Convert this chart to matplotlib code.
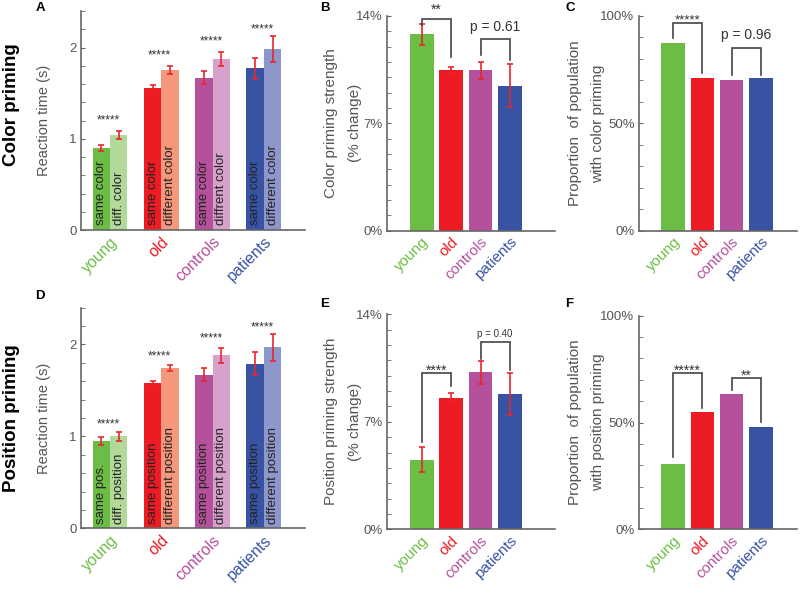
import matplotlib
matplotlib.use("Agg")
import matplotlib.pyplot as plt
from matplotlib.ticker import MultipleLocator, FuncFormatter
import numpy as np

plt.rcParams['font.family'] = ['Liberation Sans', 'DejaVu Sans']

# groups and colours
groups = ['young', 'old', 'controls', 'patients']
dark_colors = ['#6CBD45', '#ED1C24', '#B5509D', '#3853A4']
light_colors = ['#B3D99A', '#F4977A', '#D6A2CC', '#8E97CC']
err_color = '#E8262C'
gray = '#555555'

# A: reaction times, color priming
color_rt_same = [0.90, 1.56, 1.67, 1.77]
color_rt_same_err = [0.035, 0.03, 0.07, 0.12]
color_rt_diff = [1.045, 1.755, 1.875, 1.985]
color_rt_diff_err = [0.045, 0.04, 0.08, 0.145]
color_star_y = [1.245, 1.96, 2.11, 2.245]
color_same_text = ['same color'] * 4
color_diff_text = ['diff. color', 'different color', 'diffrent color', 'different color']

# D: reaction times, position priming
pos_rt_same = [0.95, 1.58, 1.67, 1.79]
pos_rt_same_err = [0.04, 0.025, 0.07, 0.125]
pos_rt_diff = [1.00, 1.745, 1.88, 1.97]
pos_rt_diff_err = [0.05, 0.035, 0.085, 0.145]
pos_star_y = [1.18, 1.92, 2.11, 2.23]
pos_same_text = ['same pos.', 'same position', 'same position', 'same position']
pos_diff_text = ['diff. position', 'different position', 'different position', 'different position']

# B / E: priming strength (%)
color_strength = [12.8, 10.5, 10.45, 9.45]
color_strength_err = [0.7, 0.2, 0.57, 1.4]
pos_strength = [4.53, 8.55, 10.22, 8.81]
pos_strength_err = [0.83, 0.3, 0.77, 1.35]

# C / F: proportion with priming (%)
color_prop = [87.6, 71.0, 70.3, 71.0]
pos_prop = [30.6, 55.1, 63.3, 47.9]

# significance brackets: (label, i, j, top, left end, right end, label y, fontsize)
brackets_B = [('**', 0, 1, 13.8, 13.4, 11.35, 14.7, 10),
              ('p = 0.61', 2, 3, 12.48, 11.45, 11.1, 13.3, 10)]
brackets_C = [('*****', 0, 1, 96.9, 89.6, 73.6, 100.5, 9.5),
              ('p = 0.96', 2, 3, 85.2, 72.5, 72.5, 91.2, 10)]
brackets_E = [('****', 0, 1, 10.2, 5.7, 9.3, 10.6, 10),
              ('p = 0.40', 2, 3, 12.18, 11.1, 10.4, 12.7, 7)]
brackets_F = [('*****', 0, 1, 73.3, 34.0, 56.6, 76.6, 10),
              ('**', 2, 3, 70.7, 65.2, 50.4, 74.1, 10)]

W, H = 800, 590
fig = plt.figure(figsize=(8, 5.9), dpi=100)


def px_axes(x0, x1, y_top, y_zero):
    return fig.add_axes([x0 / W, 1 - y_zero / H, (x1 - x0) / W, (y_zero - y_top) / H])


def style_axes(ax):
    for s in ['top', 'right']:
        ax.spines[s].set_visible(False)
    for s in ['left', 'bottom']:
        ax.spines[s].set_color('#666666')
        ax.spines[s].set_linewidth(1.2)
    ax.tick_params(axis='y', which='both', direction='in', color='#666666',
                   labelcolor=gray, labelsize=9.5, pad=3)
    ax.tick_params(axis='y', which='major', length=3)
    ax.tick_params(axis='y', which='minor', length=3)
    ax.tick_params(axis='x', length=0, pad=3)


def set_group_labels(ax, x, size):
    ax.set_xticks(x)
    ax.set_xticklabels(groups, rotation=45, ha='right', rotation_mode='anchor', fontsize=size)
    for lab, c in zip(ax.get_xticklabels(), dark_colors):
        lab.set_color(c)


def stars(ax, x, y, label, fs):
    if label.startswith('p'):
        ax.text(x, y, label, ha='center', va='center', fontsize=fs, color='#333333', clip_on=False)
    else:
        ax.annotate(label, (x, y), xytext=(0, -0.62 * fs), textcoords='offset points',
                    ha='center', va='baseline', fontsize=fs, color='#333333', annotation_clip=False)


def rt_panel(ax, same, same_err, diff, diff_err, star_y, same_txt, diff_txt, ylabel):
    x = np.arange(1, 5)
    w = 0.34
    ax.bar(x - w / 2, same, w, color=dark_colors)
    ax.bar(x + w / 2, diff, w, color=light_colors)
    ax.errorbar(x - w / 2, same, yerr=same_err, fmt='none', ecolor=err_color,
                elinewidth=1.2, capsize=2.5, capthick=1.2)
    ax.errorbar(x + w / 2, diff, yerr=diff_err, fmt='none', ecolor=err_color,
                elinewidth=1.2, capsize=2.5, capthick=1.2)
    for xi, t1, t2, sy in zip(x, same_txt, diff_txt, star_y):
        ax.text(xi - w / 2, 0.05, t1, rotation=90, ha='center', va='bottom', fontsize=9.5, color='#222222')
        ax.text(xi + w / 2, 0.05, t2, rotation=90, ha='center', va='bottom', fontsize=9.5, color='#222222')
        stars(ax, xi - 0.03, sy, '*****', 8.5)
    ax.set_xlim(0.435, 4.8)
    ax.set_ylim(0, 2.4)
    ax.yaxis.set_major_locator(MultipleLocator(1))
    ax.yaxis.set_minor_locator(MultipleLocator(0.2))
    style_axes(ax)
    set_group_labels(ax, x, 11.5)
    ax.set_ylabel(ylabel, fontsize=10.5, color=gray)
    ax.yaxis.set_label_coords(-0.135, 0.5)
    ax.yaxis.label.set_va('bottom')


def bar_panel(ax, vals, errs, ymax, major, minor, ylabel, brackets, label_x, xlim, spacing):
    x = np.arange(1, 5)
    ax.bar(x, vals, 0.8, color=dark_colors)
    if errs is not None:
        ax.errorbar(x, vals, yerr=errs, fmt='none', ecolor=err_color,
                    elinewidth=1.2, capsize=2.5, capthick=1.2)
    for lab, i, j, top, yl, yr, ly, fs in brackets:
        ax.plot([x[i], x[i], x[j], x[j]], [yl, top, top, yr], color='#444444', lw=1.2,
                clip_on=False, solid_joinstyle='miter')
        stars(ax, (x[i] + x[j]) / 2, ly, lab, fs)
    ax.set_xlim(*xlim)
    ax.set_ylim(0, ymax)
    ax.yaxis.set_major_locator(MultipleLocator(major))
    ax.yaxis.set_minor_locator(MultipleLocator(minor))
    ax.yaxis.set_major_formatter(FuncFormatter(lambda v, p: f'{v:.0f}%'))
    style_axes(ax)
    set_group_labels(ax, x, 11)
    ax.set_ylabel(ylabel, fontsize=11, color=gray, linespacing=spacing)
    ax.yaxis.set_label_coords(label_x, 0.5)
    ax.yaxis.label.set_va('bottom')


axA = px_axes(81, 305, 11, 230)
rt_panel(axA, color_rt_same, color_rt_same_err, color_rt_diff, color_rt_diff_err,
         color_star_y, color_same_text, color_diff_text, 'Reaction time (s)')
axD = px_axes(81, 305, 307.7, 528.3)
rt_panel(axD, pos_rt_same, pos_rt_same_err, pos_rt_diff, pos_rt_diff_err,
         pos_star_y, pos_same_text, pos_diff_text, 'Reaction time (s)')

axB = px_axes(386.7, 555, 16, 230.7)
bar_panel(axB, color_strength, color_strength_err, 14, 7, 1,
          'Color priming strength\n(% change)', brackets_B, -0.145, (-0.2, 5.54), 1.9)
axE = px_axes(386.7, 555, 314.3, 529.3)
bar_panel(axE, pos_strength, pos_strength_err, 14, 7, 1,
          'Position priming strength\n(% change)', brackets_E, -0.145, (-0.2, 5.54), 1.9)

axC = px_axes(638.7, 797, 16, 230.7)
bar_panel(axC, color_prop, None, 100, 50, 10,
          'Proportion  of population\nwith color priming', brackets_C, -0.215, (-0.17, 5.23), 1.75)
axF = px_axes(638.7, 797, 315.7, 529.3)
bar_panel(axF, pos_prop, None, 100, 50, 10,
          'Proportion  of population\nwith position priming', brackets_F, -0.215, (-0.17, 5.23), 1.75)

# panel letters
for letter, (lx, ly) in zip('ABCDEF', [(40, 8), (325, 8), (570, 8), (40, 296), (325, 304), (569, 304)]):
    fig.text(lx / W, 1 - ly / H, letter, fontsize=9.5, fontweight='bold', ha='center', va='center')

# row titles
fig.text(12 / W, 1 - 105 / H, 'Color priming', rotation=90, fontsize=13.5, fontweight='bold',
         ha='center', va='center')
fig.text(12 / W, 1 - 418 / H, 'Position priming', rotation=90, fontsize=13.5, fontweight='bold',
         ha='center', va='center')

fig.savefig('out.png', dpi=100)
